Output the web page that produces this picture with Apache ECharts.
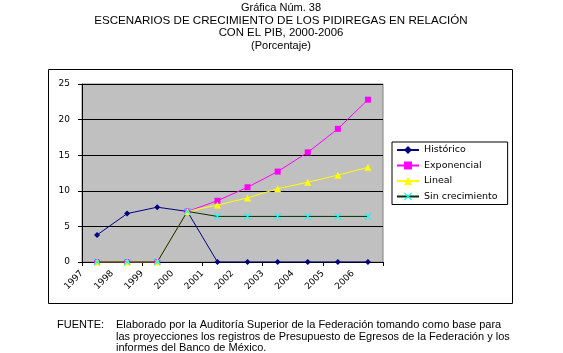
<!DOCTYPE html>
<html>
<head>
<meta charset="utf-8">
<script src="https://cdn.jsdelivr.net/npm/echarts@6/dist/echarts.min.js"></script>
<style>html,body{margin:0;padding:0;background:#fff;}#c{width:563px;height:353px;}</style>
</head>
<body>
<div id="c"></div>
<script>
const years = ['1997','1998','1999','2000','2001','2002','2003','2004','2005','2006'];
const historico = [3.8, 6.8, 7.7, 7.1, 0, 0, 0, 0, 0, 0];
const exponencial = [0, 0, 0, 7.1, 8.6, 10.5, 12.7, 15.4, 18.7, 22.8];
const lineal = [0, 0, 0, 7.1, 8.0, 9.0, 10.3, 11.2, 12.2, 13.3];
const sinCrecimiento = [0, 0, 0, 7.1, 6.4, 6.4, 6.4, 6.4, 6.4, 6.4];
const yTicks = {min: 0, max: 25, interval: 5};

const titleLines = ['Gráfica Núm. 38','ESCENARIOS DE CRECIMIENTO DE LOS PIDIREGAS EN RELACIÓN','CON EL PIB, 2000-2006','(Porcentaje)'];
const noteLines = ['Elaborado por la Auditoría Superior de la Federación tomando como base para','las proyecciones los registros de Presupuesto de Egresos de la Federación y los','informes del Banco de México.'];

const xSymbol = 'path://M0,1L1,0L5,4L9,0L10,1L6,5L10,9L9,10L5,6L1,10L0,9L4,5Z';
const F = 'Liberation Sans, Arial, sans-serif';
const FS = 'DejaVu Sans, sans-serif';

const chart = echarts.init(document.getElementById('c'), null, {renderer: 'canvas'});
const graphics = [
  {type:'rect', shape:{x:48.5, y:69.5, width:464, height:234}, style:{fill:'none', stroke:'#000', lineWidth:1}, z:-1}
];
const titleSizes = [11, 11.6, 11.4, 11];
titleLines.forEach((t, i) => {
  graphics.push({type:'text', x:281, y:8 + i*12.6, style:{text:t, font:titleSizes[i] + 'px ' + F, fill:'#000', textAlign:'center', textVerticalAlign:'middle'}});
});
graphics.push({type:'text', x:57, y:325, style:{text:'FUENTE:', font:'11px ' + F, fill:'#000', textAlign:'left', textVerticalAlign:'middle'}});
noteLines.forEach((t, i) => {
  graphics.push({type:'text', x:116, y:325 + i*11.5, style:{text:t, font:'11px ' + F, fill:'#000', textAlign:'left', textVerticalAlign:'middle'}});
});

const lineSeries = (name, data, color, symbol, size, lineColor) => ({
  name, type:'line', data, symbol, symbolSize:size, showAllSymbol:true,
  lineStyle:{color: lineColor || color, width:1},
  itemStyle:{color, borderWidth:0},
  emphasis:{disabled:true}, animation:false, z:2
});

chart.setOption({
  animation:false,
  grid:{left:82, top:84, width:301, height:178, show:true, backgroundColor:'#c0c0c0', borderColor:'#808080', borderWidth:1},
  legend:{
    orient:'vertical', left:392, top:142,
    padding:[3,10,3,4], itemGap:5.5, itemWidth:22, itemHeight:10,
    borderColor:'#000', borderWidth:1, backgroundColor:'#fff',
    textStyle:{fontFamily:FS, fontSize:9.5, color:'#000', padding:[0,0,0,0]},
    data:['Histórico','Exponencial','Lineal','Sin crecimiento']
  },
  xAxis:[
    {type:'category', data:years, boundaryGap:true, position:'bottom',
     axisLine:{lineStyle:{color:'#000', width:1}},
     axisTick:{show:true, length:4, alignWithLabel:false, lineStyle:{color:'#000'}},
     axisLabel:{show:false}, splitLine:{show:false}},
    {type:'category', data:years.concat(['']), boundaryGap:false, position:'bottom',
     axisLine:{show:false}, axisTick:{show:false}, splitLine:{show:false},
     axisLabel:{show:true, interval:0, rotate:45, margin:10, fontFamily:FS, fontSize:9, color:'#000'}}
  ],
  yAxis:{type:'value', min:yTicks.min, max:yTicks.max, interval:yTicks.interval,
    axisLine:{show:true, lineStyle:{color:'#000'}},
    axisTick:{show:true, length:4, lineStyle:{color:'#000'}},
    axisLabel:{margin:12, fontFamily:FS, fontSize:9, color:'#000'},
    splitLine:{show:true, lineStyle:{color:'#000', width:1}}},
  series:[
    lineSeries('Histórico', historico, '#000080', 'diamond', 6),
    lineSeries('Exponencial', exponencial, '#ff00ff', 'rect', 6),
    lineSeries('Lineal', lineal, '#ffff00', 'triangle', 7),
    lineSeries('Sin crecimiento', sinCrecimiento, '#00ffff', xSymbol, 7, '#003300')
  ],
  graphic:graphics
});
</script>
</body>
</html>
